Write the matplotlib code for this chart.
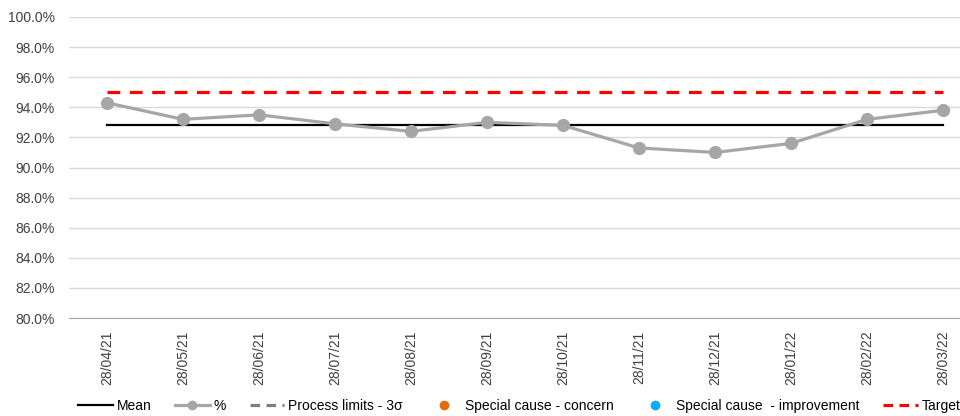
import matplotlib
matplotlib.use("Agg")
import matplotlib.pyplot as plt
from matplotlib.lines import Line2D

plt.rcParams['font.family'] = ['Liberation Sans', 'DejaVu Sans']

# data
dates = ["28/04/21", "28/05/21", "28/06/21", "28/07/21", "28/08/21", "28/09/21",
         "28/10/21", "28/11/21", "28/12/21", "28/01/22", "28/02/22", "28/03/22"]
pct = [94.3, 93.2, 93.5, 92.9, 92.4, 93.0, 92.8, 91.3, 91.0, 91.6, 93.2, 93.8]
mean = 92.8
target = 95.0

fig = plt.figure(figsize=(9.6, 4.16), dpi=100)
ax = fig.add_axes([69/960, 1 - 318/416, 912/960, 301/416])

x = list(range(len(dates)))
ax.plot(x, [mean] * len(x), color='black', lw=1.6, zorder=2)
ax.plot(x, [target] * len(x), color='#FF0000', lw=2.3, dashes=(4, 3), zorder=2)
ax.plot(x, pct, color='#A6A6A6', lw=2.3, marker='o', ms=8.5, zorder=3)

ax.set_xlim(-0.5, len(x) - 0.5)
ax.set_ylim(80, 100)
ax.set_yticks(range(80, 101, 2))
ax.set_yticklabels([f"{v:.1f}%" for v in range(80, 101, 2)], fontsize=10, color='#404040')
ax.set_xticks(x)
ax.set_xticklabels(dates, rotation=90, fontsize=10, color='#404040')
ax.tick_params(axis='x', length=0, pad=9)
ax.tick_params(axis='y', length=0, pad=10)
ax.grid(axis='y', color='#D9D9D9', lw=1)
ax.set_axisbelow(True)
for s in ['top', 'right', 'left']:
    ax.spines[s].set_visible(False)
ax.spines['bottom'].set_color('#A6A6A6')

handles = [
    Line2D([], [], color='black', lw=1.6),
    Line2D([], [], color='#A6A6A6', lw=2.3, marker='o', ms=6),
    Line2D([], [], color='#7F7F7F', lw=2.3, dashes=(3, 2)),
    Line2D([], [], color='#E36C0A', lw=0, marker='o', ms=6),
    Line2D([], [], color='#00B0F0', lw=0, marker='o', ms=6),
    Line2D([], [], color='#FF0000', lw=2.3, dashes=(3, 2)),
]
labels = ["Mean", "%", "Process limits - 3σ", "Special cause - concern",
          "Special cause  - improvement", "Target"]
fig.legend(handles, labels, loc='center left', bbox_to_anchor=(78/960, 10/416),
           ncol=6, frameon=False, fontsize=10, handlelength=2.5, handletextpad=0.3,
           columnspacing=1.68, borderaxespad=0, borderpad=0)

fig.savefig("out.png", dpi=100)
